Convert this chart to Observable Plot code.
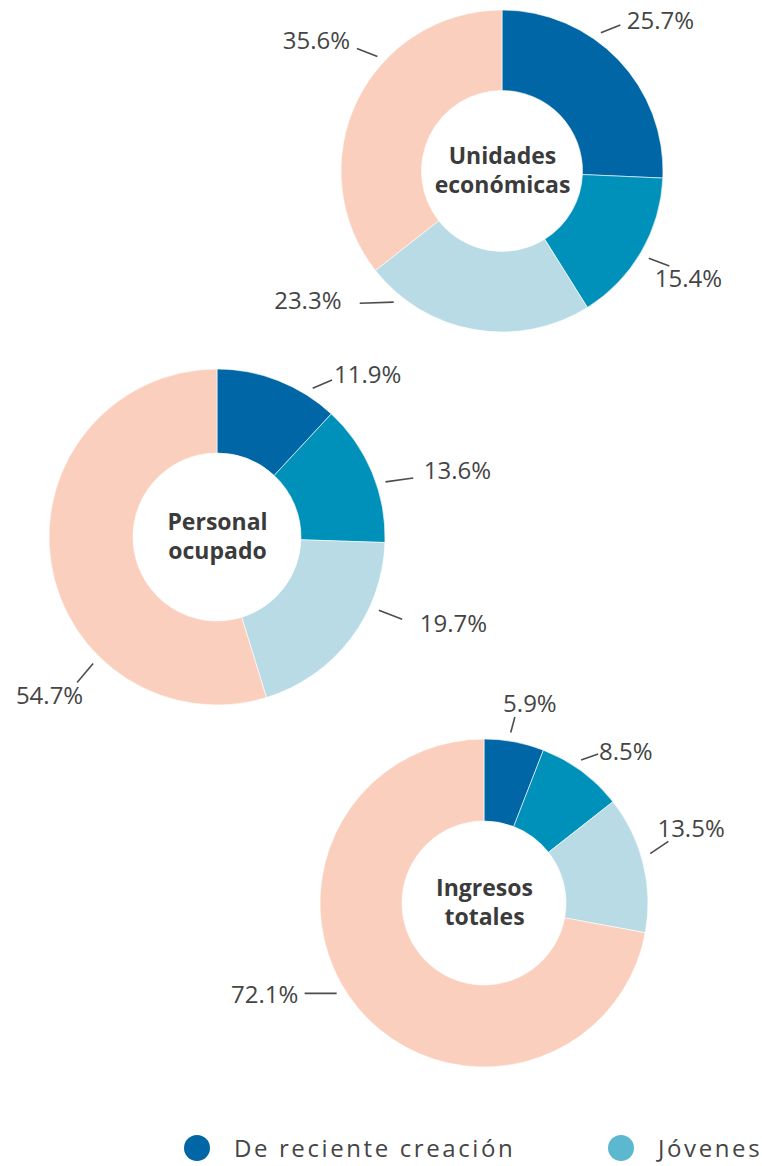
<!DOCTYPE html>
<html><head><meta charset="utf-8">
<script src="https://cdn.jsdelivr.net/npm/d3@7"></script>
<script src="https://cdn.jsdelivr.net/npm/@observablehq/plot@0.6"></script>
<style>
body{margin:0;background:#fff;font-family:"Open Sans",sans-serif;}
#wrap{width:762px;position:relative;}
.legend{position:relative;height:46px;width:762px;}
.item{position:absolute;top:15px;display:flex;align-items:center;height:26px;}
.sw{width:26px;height:26px;border-radius:50%;margin-right:24px;flex:none;}
.lt{font-size:24px;letter-spacing:2.6px;color:#454545;white-space:nowrap;line-height:26px;}
</style></head><body><div id="wrap"></div><script>
// ---- data ----
const categories = ["De reciente creación", "Jóvenes", "Serie 3", "Resto"];
const titles = [["Unidades", "económicas"], ["Personal", "ocupado"], ["Ingresos", "totales"]];
const unidades = [25.7, 15.4, 23.3, 35.6];
const personal = [11.9, 13.6, 19.7, 54.7];
const ingresos = [5.9, 8.5, 13.5, 72.1];
const legendItems = ["De reciente creación", "Jóvenes"];

// ---- styles / layout ----
const palette = ["#0066a6", "#0091bb", "#b8dbe5", "#fbcfbd"];
const legendColors = ["#0066a6", "#5bb8cf"];
const W = 762, H = 1120;
// leader: start at (slice mid-angle + leadNudge) just outside the ring, drawn in direction leadDir for leadLen
const layout = [
  {cx: 502, cy: 171, R: 161, leadNudge: [-10.9, 0.4, 29.9, 16.7], leadDir: [68, 111, 268, 291], leadLen: [21, 22, 34, 22],
   textNudge: [0.2, -0.1, 46.4, 9.0], textR: [57, 54, 73, 66]},
  {cx: 217, cy: 537, R: 168, leadNudge: [11.1, 4.3, -13.1, -36.8], leadDir: [67, 82, 111, 220], leadLen: [21, 28, 25, 25],
   textNudge: [21.4, 7.1, -17.1, -34.8], textR: [53, 81, 83.5, 63]},
  {cx: 484, cy: 903, R: 164, leadNudge: [-1.9, -2.6, -2.9, 8.5], leadDir: [15, 71, 56, 270], leadLen: [16, 18, 22, 32],
   textNudge: [2.2, 6.5, -5.9, 17.2], textR: [40.6, 43, 55.5, 74]}
];
const leadGap = 9;
const holeRatio = 0.5;
const titleGap = 14.5;
const series = [unidades, personal, ingresos];

const colorScale = Plot.scale({color: {type: "ordinal", domain: categories, range: palette}});
const pie = d3.pie().sort(null).value(d => d);
const fmt = v => d3.format(".1f")(v) + "%";
const deg = Math.PI / 180;
const polar = (L, ang, r) => ({x: L.cx + r * Math.sin(ang), y: L.cy - r * Math.cos(ang)});

// labels and leaders derived from the pie angles
const labels = [], line1 = [], line2 = [];
series.forEach((vals, k) => {
  const L = layout[k];
  line1.push({x: L.cx, y: L.cy, text: titles[k][0]});
  line2.push({x: L.cx, y: L.cy, text: titles[k][1]});
  pie(vals).forEach((a, i) => {
    const mid = (a.startAngle + a.endAngle) / 2;
    const la = mid + L.leadNudge[i] * deg;
    const ta = mid + L.textNudge[i] * deg;
    const p1 = polar(L, la, L.R + leadGap);
    const dir = L.leadDir[i] * deg;
    const p2 = {x: p1.x + L.leadLen[i] * Math.sin(dir), y: p1.y - L.leadLen[i] * Math.cos(dir)};
    const pt = polar(L, ta, L.R + L.textR[i]);
    labels.push({x1: p1.x, y1: p1.y, x2: p2.x, y2: p2.y, x: pt.x, y: pt.y, text: fmt(vals[i])});
  });
});

function donuts(index, scales) {
  const sx = scales.x || (v => v), sy = scales.y || (v => v);
  const g = d3.create("svg:g");
  series.forEach((vals, k) => {
    const L = layout[k];
    const arc = d3.arc().innerRadius(L.R * holeRatio).outerRadius(L.R);
    g.append("g")
      .attr("transform", `translate(${sx(L.cx)},${sy(L.cy)})`)
      .selectAll("path").data(pie(vals)).join("path")
      .attr("d", arc)
      .attr("fill", (d, i) => colorScale.apply(categories[i]))
      .attr("stroke", "#ffffff").attr("stroke-width", 0.6);
  });
  return g.node();
}

const titleStyle = {x: "x", y: "y", text: "text", fontSize: 23, fontWeight: "bold", fill: "#3b3b3b", lineAnchor: "middle"};
const chart = Plot.plot({
  width: W, height: H, margin: 0,
  style: {fontFamily: "'Open Sans', sans-serif", background: "#fff"},
  x: {type: "linear", domain: [0, W], range: [0, W], axis: null},
  y: {type: "linear", domain: [0, H], range: [0, H], axis: null},
  marks: [
    donuts,
    Plot.link(labels, {x1: "x1", y1: "y1", x2: "x2", y2: "y2", stroke: "#4d4d4d", strokeWidth: 1.6}),
    Plot.text(labels, {x: "x", y: "y", text: "text", fontSize: 24, fill: "#454545", textAnchor: "middle", lineAnchor: "middle"}),
    Plot.text(line1, {...titleStyle, dy: -titleGap}),
    Plot.text(line2, {...titleStyle, dy: titleGap})
  ]
});

const wrap = document.getElementById("wrap");
wrap.appendChild(chart);
const leg = document.createElement("div");
leg.className = "legend";
const lefts = [184, 608];
legendItems.forEach((name, i) => {
  const it = document.createElement("div");
  it.className = "item";
  it.style.left = lefts[i] + "px";
  it.innerHTML = `<span class="sw" style="background:${legendColors[i]}"></span><span class="lt">${name}</span>`;
  leg.appendChild(it);
});
wrap.appendChild(leg);
</script></body></html>
